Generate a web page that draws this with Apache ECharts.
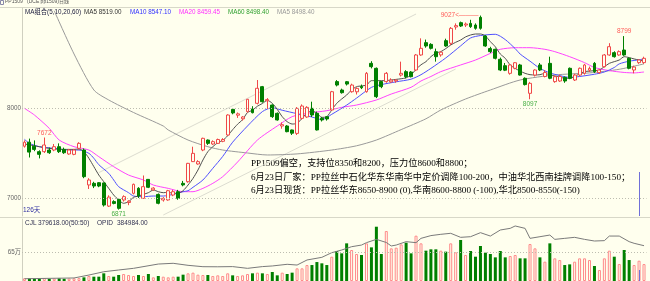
<!DOCTYPE html>
<html><head><meta charset="utf-8">
<script src="https://cdn.jsdelivr.net/npm/echarts@6/dist/echarts.min.js"></script>
<style>html,body{margin:0;padding:0;background:#ffffee;}#c{width:650px;height:281px;}</style>
</head><body><div id="c"></div>
<script>
// ---------- data ----------
const days = Array.from({length: 126}, (_, i) => 'D' + (i + 1));
const opens = [7575,7620,7575,7515,7515,7533,7533,7570,7540,7489,
7485,7552,7533,7145,7163,7170,7167,6910,6960,6985,
6978,6950,7052,7108,6996,7207,7090,7040,6978,6978,
7033,7070,7163,7181,7404,7378,7533,7644,7600,7607,
7630,7700,7985,7920,7880,7959,7990,8052,8237,8080,
8033,7941,7800,7800,7756,7718,7885,7900,7996,7941,
7885,7903,7978,8293,8200,8292,8181,8180,8240,8181,
8496,8441,8293,8293,8290,8300,8366,8404,8400,8422,
8589,8726,8707,8626,8590,8748,8719,8900,8948,8922,
8940,8922,9007,8800,8660,8652,8541,8470,8385,8441,
8478,8330,8163,8366,8478,8350,8496,8293,8300,8340,
8441,8311,8366,8385,8420,8496,8393,8459,8589,8615,
8589,8644,8552,8422,8504,8504];
const highs = [7640,7660,7640,7530,7672,7560,7600,7607,7560,7545,
7545,7620,7550,7220,7180,7175,7170,7030,6975,6990,
7030,6975,7160,7120,7250,7210,7120,7050,7010,7090,
7090,7090,7190,7390,7570,7420,7670,7650,7640,7660,
7665,7930,8000,7950,7910,8100,8020,8311,8245,8110,
8040,7950,7840,7810,7760,8010,8040,8020,8070,7960,
7900,7910,8190,8310,8215,8300,8270,8230,8260,8400,
8520,8450,8300,8400,8330,8320,8515,8420,8410,8600,
8774,8760,8720,8660,8630,8770,8900,8940,8960,8950,
8980,8940,9027,8810,8680,8660,8560,8500,8490,8510,
8490,8340,8290,8430,8500,8420,8570,8360,8370,8350,
8450,8380,8450,8490,8460,8510,8430,8600,8720,8630,
8640,8799,8560,8470,8540,8570];
const lows = [7560,7450,7520,7440,7500,7490,7520,7500,7490,7480,
7475,7540,7220,7100,7110,7120,6905,6900,6930,6871,
6960,6920,7040,7000,6990,7110,7080,6930,6960,6970,
7020,6980,7130,7170,7400,7370,7520,7590,7590,7600,
7620,7690,7930,7890,7860,7950,7940,8040,8060,7990,
7890,7860,7770,7730,7700,7700,7870,7890,7900,7750,
7850,7860,7970,8240,8160,8250,8170,8150,8210,8170,
8440,8110,8220,8280,8280,8280,8350,8330,8340,8410,
8580,8670,8650,8515,8570,8680,8700,8870,8900,8900,
8890,8870,8870,8680,8610,8540,8410,8410,8370,8430,
8360,8250,8097,8350,8410,8340,8320,8280,8290,8280,
8320,8300,8350,8370,8400,8390,8380,8450,8580,8560,
8580,8580,8430,8385,8490,8490];
const closes = [7620,7510,7540,7485,7589,7503,7570,7515,7503,7533,
7533,7607,7237,7200,7133,7133,6922,7010,6940,6885,
7015,6965,7152,7022,7126,7119,7110,6941,6996,7081,
7070,6996,7145,7385,7496,7404,7663,7607,7626,7650,
7650,7922,7945,7935,7900,8097,7948,8219,8070,8093,
7904,7867,7815,7737,7720,7996,8022,8007,7922,7756,
7867,7878,8181,8255,8170,8266,8255,8218,8225,8385,
8459,8126,8237,8385,8310,8310,8385,8348,8348,8589,
8663,8689,8663,8570,8620,8689,8885,8915,8911,8933,
8904,8885,8885,8689,8626,8552,8422,8420,8478,8503,
8366,8260,8274,8422,8422,8395,8330,8348,8350,8300,
8330,8366,8441,8478,8440,8404,8422,8589,8681,8570,
8626,8589,8441,8455,8533,8552];
const volumes = [60000,55000,50000,55000,65000,50000,55000,60000,50000,55000,
60000,65000,82000,112000,97000,97000,172000,112000,97000,134000,
157000,134000,112000,134000,112000,157000,82000,112000,97000,82000,
97000,97000,142000,172000,187000,142000,134000,134000,112000,127000,
112000,172000,127000,112000,127000,157000,172000,187000,172000,157000,
202000,127000,187000,157000,187000,284000,284000,358000,358000,425000,
396000,358000,545000,672000,620000,844000,695000,605000,583000,844000,
754000,1217000,605000,1120000,732000,747000,821000,859000,620000,1016000,
844000,680000,710000,710000,680000,658000,844000,643000,919000,583000,
672000,545000,785000,635000,605000,530000,672000,530000,560000,583000,
508000,508000,829000,732000,530000,433000,844000,508000,470000,358000,
373000,433000,508000,508000,470000,336000,246000,508000,680000,545000,
381000,695000,470000,358000,455000,379618];
// open interest read at sampled days [day index, value]
const opid = [[0,25000],[10,33000],[13,65000],[16,101000],[19,120000],[22,138000],[27,185000],[30,193000],[33,171000],[36,156000],[39,155000],[42,157000],[45,138000],[48,157000],[50,164000],[53,182000],[55,174000],[57,229000],[60,258000],[62,309000],[64,338000],[66,374000],[68,392000],[69,418000],[71,454000],[73,420000],[74,382000],[75,392000],[77,429000],[79,418000],[80,465000],[82,495000],[84,509000],[86,520000],[88,476000],[90,483000],[92,527000],[94,490000],[96,556000],[98,574000],[99,600000],[101,574000],[102,465000],[104,483000],[106,501000],[107,454000],[109,465000],[111,476000],[113,454000],[115,436000],[117,440000],[118,490000],[120,490000],[122,429000],[123,411000],[125,384984]];
// moving averages [day index, value]
const ma5 = [[0,7600],[2,7580],[4,7560],[6,7545],[8,7540],[10,7540],[11,7545],[12,7515],[13,7441],[14,7348],[15,7255],[16,7181],[17,7107],[18,7033],[19,6978],[20,6941],[21,6959],[22,7007],[23,7022],[24,7041],[25,7059],[26,7089],[27,7070],[28,7059],[29,7063],[30,7052],[31,7052],[32,7081],[33,7144],[34,7218],[35,7311],[36,7422],[37,7515],[38,7570],[39,7615],[40,7640],[41,7691],[42,7759],[43,7820],[44,7870],[45,7950],[46,7975],[47,8020],[48,8050],[49,8085],[50,8052],[51,7985],[52,7904],[53,7848],[54,7822],[55,7830],[56,7885],[57,7941],[58,7970],[59,7941],[60,7896],[61,7904],[62,7978],[63,8052],[64,8100],[65,8144],[66,8200],[67,8237],[68,8245],[69,8255],[70,8304],[71,8304],[72,8304],[73,8305],[74,8311],[75,8318],[76,8325],[77,8335],[78,8367],[79,8430],[80,8480],[81,8515],[82,8570],[83,8610],[84,8626],[85,8660],[86,8700],[87,8730],[88,8755],[89,8790],[90,8811],[91,8822],[92,8822],[93,8800],[94,8737],[95,8680],[96,8600],[97,8552],[98,8478],[99,8440],[100,8410],[101,8385],[102,8370],[103,8367],[104,8370],[105,8385],[106,8367],[107,8355],[108,8345],[109,8330],[110,8330],[111,8350],[112,8380],[113,8404],[114,8410],[115,8415],[116,8422],[117,8459],[118,8496],[119,8515],[120,8533],[121,8570],[122,8560],[123,8545],[124,8533],[125,8519]];
const ma10 = [[0,7652],[1,7607],[3,7570],[6,7552],[9,7533],[11,7533],[13,7496],[14,7441],[15,7370],[17,7274],[18,7200],[19,7126],[21,7059],[22,7022],[24,7015],[26,7022],[28,7022],[30,7041],[32,7070],[33,7081],[34,7119],[36,7200],[38,7330],[40,7462],[42,7620],[45,7800],[48,7960],[50,8003],[52,7975],[55,7937],[58,7900],[60,7871],[62,7930],[65,8032],[67,8110],[70,8229],[72,8260],[75,8291],[78,8320],[80,8370],[82,8440],[85,8556],[88,8690],[90,8778],[92,8805],[95,8819],[97,8760],[99,8660],[100,8600],[102,8520],[104,8440],[106,8390],[108,8360],[110,8340],[112,8350],[115,8375],[117,8400],[119,8450],[120,8490],[122,8520],[124,8535],[125,8547]];
const ma20 = [[0,7996],[2,7922],[5,7774],[7,7644],[10,7570],[13,7533],[15,7459],[18,7348],[21,7255],[24,7200],[26,7144],[29,7107],[32,7070],[34,7070],[36,7107],[38,7163],[40,7237],[43,7400],[47,7644],[51,7800],[54,7904],[57,7941],[61,7970],[64,8007],[67,8033],[71,8089],[74,8155],[78,8230],[80,8300],[82,8350],[84,8404],[88,8478],[91,8533],[94,8607],[96,8652],[99,8670],[102,8670],[105,8652],[107,8626],[110,8570],[113,8504],[115,8450],[118,8415],[121,8395],[123,8390],[125,8400]];
const ma60 = [[6,9080],[10,8600],[14,8200],[17,8089],[22,7950],[28,7800],[29,7756],[33,7644],[37,7570],[40,7533],[45,7500],[49,7478],[55,7490],[62,7533],[67,7580],[71,7644],[76,7760],[81,7880],[84,7978],[89,8100],[94,8200],[100,8311],[107,8367],[114,8390],[120,8430],[125,8490]];
// channel lines drawn by the analyst [day index, price]
const channelUpper = [[15,7282],[79,9044]];
const channelLower = [[28,6811],[87,8433]];
// extreme price labels
const extremeDay = [4, 19, 92, 102, 121];
const extremeVal = [7672, 6871, 9027, 8097, 8799];
// crosshair cursor day
const cursorDay = 124;
const priceTicks = [7000, 8000];
const volTicks = [650000];
const volTickLabels = ['65万'];
const legendNames = ['MA5', 'MA10', 'MA20', 'MA60', 'MA5'];
const legendValues = ['8519.00', '8547.10', '8459.45', '8498.40', '8498.40'];
const noteLines = ['PP1509偏空，支持位8350和8200，压力位8600和8800；',
 '6月23日厂家：PP拉丝中石化华东华南华中定价调降100-200，中油华北西南挂牌调降100-150；',
 '6月23日现货：PP拉丝华东8650-8900 (0),华南8600-8800 (-100),华北8500-8550(-150)'];

// ---------- chart ----------
const BG = '#ffffee';
const UP = '#f04848', DOWN = '#008000';
const chart = echarts.init(document.getElementById('c'));
const candleData = opens.map((o, i) => [o, closes[i], lows[i], highs[i]]);
const volData = volumes.map((v, i) => ({
  value: v,
  itemStyle: closes[i] >= opens[i] ? {color: BG, borderColor: '#ff8a8a', borderWidth: 1} : {color: DOWN}
}));
const extremeData = extremeDay.map((d, i) => {
  const isHigh = extremeVal[i] >= highs[d];
  const big = extremeVal[i] === Math.max(...highs);
  return {
    value: [d, extremeVal[i]],
    label: {
      position: big ? 'left' : (isHigh ? 'top' : 'bottom'),
      formatter: big ? extremeVal[i] + '<———' : String(extremeVal[i]),
      color: isHigh ? '#ff3030' : '#1a9a1a',
      distance: big ? 2 : 1
    }
  };
});
const maLine = (name, data, color) => ({
  name, type: 'line', data, xAxisIndex: 0, yAxisIndex: 0, showSymbol: false, smooth: 0.25,
  lineStyle: {width: 1, color}, silent: true, z: 3
});
const chLine = (data) => ({
  type: 'line', data, xAxisIndex: 0, yAxisIndex: 0, showSymbol: false, silent: true,
  lineStyle: {width: 1, color: '#dcdcd0'}, z: 1
});
const lblFont = {fontFamily: 'Liberation Sans', fontSize: 6.3};
const legendColors = ['#333333', '#3030ff', '#ff30ff', '#30a030', '#999999'];
const legendX = [84, 130, 179, 228, 277];
const graphics = [
  {type: 'rect', shape: {x: 0.5, y: 0.5, width: 3, height: 4}, style: {fill: 'none', stroke: '#8888aa', lineWidth: 1}},
  {type: 'text', left: 5, top: -1, style: {text: 'PP1509', fill: '#555', font: '5px "Liberation Sans"'}},
  {type: 'text', left: 27, top: -1, style: {text: '(DCE pp1509)日线', fill: '#555', font: '5px "Liberation Sans", "Noto Sans CJK SC"'}},
  {type: 'line', shape: {x1: 0, y1: 7.5, x2: 650, y2: 7.5}, style: {stroke: '#d8d8c8', lineWidth: 1}},
  {type: 'text', left: 25, top: 9, style: {text: 'MA组合(5,10,20,60)', fill: '#202040', font: '6.3px "Liberation Sans", "Noto Sans CJK SC"'}},
  {type: 'line', shape: {x1: 0, y1: 217.5, x2: 650, y2: 217.5}, style: {stroke: '#d8d8c8', lineWidth: 1}},
  {type: 'text', left: 25, top: 219.5, style: {text: 'CJL', fill: '#303050', font: '6.5px "Liberation Sans"'}},
  {type: 'text', left: 38, top: 219.5, style: {text: volumes[volumes.length - 1].toFixed(2) + '(50:50)', fill: '#303050', font: '6.5px "Liberation Sans"'}},
  {type: 'text', left: 97, top: 219.5, style: {text: 'OPID', fill: '#303050', font: '6.5px "Liberation Sans"'}},
  {type: 'text', left: 117, top: 219.5, style: {text: opid[opid.length - 1][1].toFixed(2), fill: '#303050', font: '6.5px "Liberation Sans"'}},
  {type: 'text', left: 23, top: 206.5, style: {text: days.length + '天', fill: '#3030a0', font: '6.5px "Liberation Sans", "Noto Sans CJK SC"'}}
];
legendNames.forEach((n, i) => graphics.push({type: 'text', left: legendX[i], top: 9,
  style: {text: n + ' ' + legendValues[i], fill: legendColors[i], font: '6.3px "Liberation Sans"'}}));
noteLines.forEach((t, i) => graphics.push({type: 'text', left: 251, top: 159 + i * 13.5,
  style: {text: t, fill: '#000', font: '9.2px "Liberation Serif", "Noto Sans CJK SC"'}}));

chart.setOption({
  animation: false,
  backgroundColor: BG,
  grid: [
    {left: 22, right: 3.5, top: 8, height: 208},
    {left: 22, right: 3.5, top: 219, height: 62}
  ],
  xAxis: [
    {type: 'category', data: days, gridIndex: 0, boundaryGap: true, axisLine: {show: false}, axisTick: {show: false}, axisLabel: {show: false}, splitLine: {show: false}},
    {type: 'category', data: days, gridIndex: 1, boundaryGap: true, axisLine: {show: false}, axisTick: {show: false}, axisLabel: {show: false}, splitLine: {show: false}}
  ],
  yAxis: [
    {type: 'value', gridIndex: 0, min: 6800, max: 9111, axisLine: {show: true, lineStyle: {color: '#d0d0c0'}}, axisTick: {show: false}, axisLabel: {show: false}, splitLine: {show: false}},
    {type: 'value', gridIndex: 1, min: 0, max: 1390000, axisLine: {show: true, lineStyle: {color: '#d0d0c0'}}, axisTick: {show: false}, axisLabel: {show: false}, splitLine: {show: false}},
    {type: 'value', gridIndex: 1, min: 0, max: 676000, show: false}
  ],
  series: [
    chLine(channelUpper), chLine(channelLower),
    {
      type: 'candlestick', data: candleData, xAxisIndex: 0, yAxisIndex: 0, barWidth: 3.4, z: 4,
      itemStyle: {color: BG, color0: DOWN, borderColor: UP, borderColor0: DOWN, borderWidth: 1},
      markLine: {
        silent: true, symbol: 'none', animation: false,
        lineStyle: {type: [1, 2], color: '#bdbdb0', width: 1},
        label: {position: 'start', distance: 1, color: '#666', formatter: p => String(p.value), ...lblFont},
        data: priceTicks.map(v => ({yAxis: v}))
      }
    },
    maLine('MA60', ma60, '#9a9a9a'),
    maLine('MA20', ma20, '#ff44ff'),
    maLine('MA10', ma10, '#5050ff'),
    maLine('MA5', ma5, '#505050'),
    {
      type: 'scatter', data: extremeData, xAxisIndex: 0, yAxisIndex: 0, symbolSize: 0, silent: true, z: 6,
      label: {show: true, fontFamily: 'Liberation Sans', fontSize: 6.5}
    },
    {
      type: 'bar', data: volData, xAxisIndex: 1, yAxisIndex: 1, barWidth: 3, z: 2,
      markLine: {
        silent: true, symbol: 'none', animation: false,
        lineStyle: {type: [1, 2], color: '#bdbdb0', width: 1},
        label: {position: 'start', distance: 1, color: '#666', formatter: p => volTickLabels[volTicks.indexOf(p.value)], fontFamily: 'Liberation Sans, Noto Sans CJK SC', fontSize: 6.3},
        data: volTicks.map(v => ({yAxis: v}))
      }
    },
    {
      type: 'line', data: opid, xAxisIndex: 1, yAxisIndex: 2, showSymbol: false, silent: true, z: 3,
      lineStyle: {width: 1, color: '#7a7a7a'}
    }
  ],
  graphic: graphics
});
// crosshair remnant at the cursor day, placed through the axis scale
const cx = Math.round(chart.convertToPixel({xAxisIndex: 0}, cursorDay)) + 0.5;
chart.setOption({graphic: graphics.concat([
  {type: 'line', z: 10, shape: {x1: cx, y1: 172, x2: cx, y2: 216}, style: {stroke: '#7070d8', lineWidth: 1}},
  {type: 'line', z: 10, shape: {x1: cx, y1: 270, x2: cx, y2: 281}, style: {stroke: '#7070d8', lineWidth: 1}}
])});
</script>
</body></html>
